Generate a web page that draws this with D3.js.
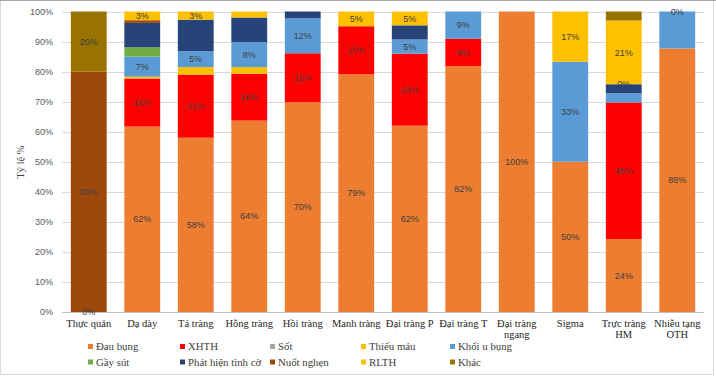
<!DOCTYPE html>
<html><head><meta charset="utf-8">
<script src="https://cdn.jsdelivr.net/npm/d3@7"></script>
<style>body{margin:0;background:#fff}svg{display:block}</style>
</head><body><svg id="c" width="716" height="376"></svg>
<script>
const categories = ["Thực quản","Dạ dày","Tá tràng","Hỗng tràng","Hồi tràng","Manh tràng","Đại tràng P","Đại tràng T","Đại tràng\nngang","Sigma","Trực tràng\nHM","Nhiễu tạng\nOTH"];
const seriesNames = ["Đau bụng","XHTH","Sốt","Thiếu máu","Khối u bụng","Gầy sút","Phát hiện tình cờ","Nuốt nghẹn","RLTH","Khác"];
const seriesColors = ["#ED7D31","#FF0000","#A5A5A5","#FFC000","#5B9BD5","#70AD47","#264478","#9E480E","#FFC000","#997300"];
const dauBung     = [0, 61.7, 58, 63.7, 69.8, 79.1, 62, 81.8, 100, 50, 24.3, 87.7];
const xhth        = [0, 16, 21, 15.6, 16.3, 16, 24, 9.1, 0, 0, 45.4, 0];
const sot         = [0, 0, 0, 0, 0, 0, 0, 0, 0, 0, 0, 0];
const thieuMau    = [0, 0.6, 2.5, 2.2, 0, 0, 0, 0, 0, 0, 0, 0];
const khoiUBung   = [0, 6.7, 5.3, 8.3, 11.6, 0, 4.7, 9.1, 0, 33.3, 3.1, 12.3];
const gaySut      = [0, 3.1, 0, 0, 0, 0, 0, 0, 0, 0, 0, 0];
const phatHien    = [0, 8.1, 10.5, 8.2, 2.3, 0, 4.7, 0, 0, 0, 3.0, 0];
const nuotNghen   = [80, 0.9, 0, 0, 0, 0, 0, 0, 0, 0, 0, 0];
const rlth        = [0, 2.9, 2.7, 2.0, 0, 4.9, 4.6, 0, 0, 16.7, 21.2, 0];
const khac        = [20, 0, 0, 0, 0, 0, 0, 0, 0, 0, 3.0, 0];
const seriesValues = [dauBung, xhth, sot, thieuMau, khoiUBung, gaySut, phatHien, nuotNghen, rlth, khac];
const yTicks = [0,10,20,30,40,50,60,70,80,90,100];
const shownLabels = [
 [0,"Đau bụng"],[0,"Nuốt nghẹn"],[0,"Khác"],
 [1,"Đau bụng"],[1,"XHTH"],[1,"Khối u bụng"],[1,"RLTH"],
 [2,"Đau bụng"],[2,"XHTH"],[2,"Khối u bụng"],[2,"RLTH"],
 [3,"Đau bụng"],[3,"XHTH"],[3,"Khối u bụng"],
 [4,"Đau bụng"],[4,"XHTH"],[4,"Khối u bụng"],
 [5,"Đau bụng"],[5,"XHTH"],[5,"RLTH"],
 [6,"Đau bụng"],[6,"XHTH"],[6,"Khối u bụng"],[6,"RLTH"],
 [7,"Đau bụng"],[7,"XHTH"],[7,"Khối u bụng"],
 [8,"Đau bụng"],
 [9,"Đau bụng"],[9,"Khối u bụng"],[9,"RLTH"],
 [10,"Đau bụng"],[10,"XHTH"],[10,"Nuốt nghẹn"],[10,"RLTH"],
 [11,"Đau bụng"],[11,"Khác"]
];

(function(){
const svg = d3.select("#c");
const pL = 62, pR = 704, pT = 11.5, pB = 312;
const x = d3.scaleBand().domain(categories).range([pL, pR]).paddingInner(0.33).paddingOuter(0.165);
const y = d3.scaleLinear().domain([0,100]).range([pB, pT]);

svg.append("rect").attr("x",0.5).attr("y",0.5).attr("width",713).attr("height",374).attr("fill","none").attr("stroke","#d9d9d9");
svg.append("line").attr("x1",0).attr("x2",716).attr("y1",0.5).attr("y2",0.5).attr("stroke","#a6a6a6");

svg.append("g").selectAll("line").data(yTicks).join("line")
  .attr("x1",pL).attr("x2",pR).attr("y1",d=>Math.round(y(d))+0.5).attr("y2",d=>Math.round(y(d))+0.5)
  .attr("stroke",d=>d===0?"#bfbfbf":"#d9d9d9").attr("stroke-width",1);

const yAxis = d3.axisLeft(y).tickValues(yTicks).tickFormat(d=>d+"%").tickSize(0).tickPadding(0);
const gy = svg.append("g").attr("transform",`translate(${pL-9},0)`).call(yAxis);
gy.select(".domain").remove();
gy.selectAll("text").attr("font-family","Liberation Sans, Arial, sans-serif").attr("font-size",9).attr("fill","#595959");

svg.append("text").attr("transform","translate(24,162) rotate(-90)").attr("text-anchor","middle")
  .attr("font-family","Liberation Serif, Times New Roman, serif").attr("font-size",10.5).attr("fill","#404040").text("Tỷ lệ %");

const rows = categories.map((c,i)=>{const o={cat:c}; seriesNames.forEach((s,j)=>o[s]=seriesValues[j][i]); return o;});
const stack = d3.stack().keys(seriesNames)(rows);
const gBars = svg.append("g");
stack.forEach((layer,j)=>{
  gBars.selectAll(null).data(layer).join("rect")
    .attr("x",d=>x(d.data.cat)).attr("width",x.bandwidth())
    .attr("y",d=>y(d[1])).attr("height",d=>Math.max(0,y(d[0])-y(d[1])))
    .attr("fill",seriesColors[j]);
});

const fmt = d3.format(".0%");
const gl = svg.append("g");
shownLabels.forEach(([ci,sn])=>{
  const j = seriesNames.indexOf(sn);
  const d = stack[j][ci];
  gl.append("text").attr("x",x(categories[ci])+x.bandwidth()/2).attr("y",(y(d[0])+y(d[1]))/2)
    .attr("dy","0.35em").attr("text-anchor","middle")
    .attr("font-family","Liberation Sans, Arial, sans-serif").attr("font-size",9).attr("fill","#404040")
    .text(fmt((d[1]-d[0])/100));
});

const gx = svg.append("g");
categories.forEach(c=>{
  c.split("\n").forEach((ln,k)=>gx.append("text").attr("x",x(c)+x.bandwidth()/2).attr("y",326.6+k*11.7)
    .attr("text-anchor","middle")
    .attr("font-family","Liberation Serif, Times New Roman, serif").attr("font-size",10.5).attr("fill","#262626").text(ln));
});

const legCols = [88,180,270,361,450];
const legRows = [346.5,362];
const gLeg = svg.append("g");
seriesNames.forEach((s,j)=>{
  const cx = legCols[j%5], cy = legRows[Math.floor(j/5)];
  gLeg.append("rect").attr("x",cx).attr("y",cy-2.5).attr("width",5).attr("height",5).attr("fill",seriesColors[j]);
  gLeg.append("text").attr("x",cx+8).attr("y",cy).attr("dy","0.35em")
    .attr("font-family","Liberation Serif, Times New Roman, serif").attr("font-size",10.8).attr("fill","#404040").text(s);
});
})();
</script></body></html>
